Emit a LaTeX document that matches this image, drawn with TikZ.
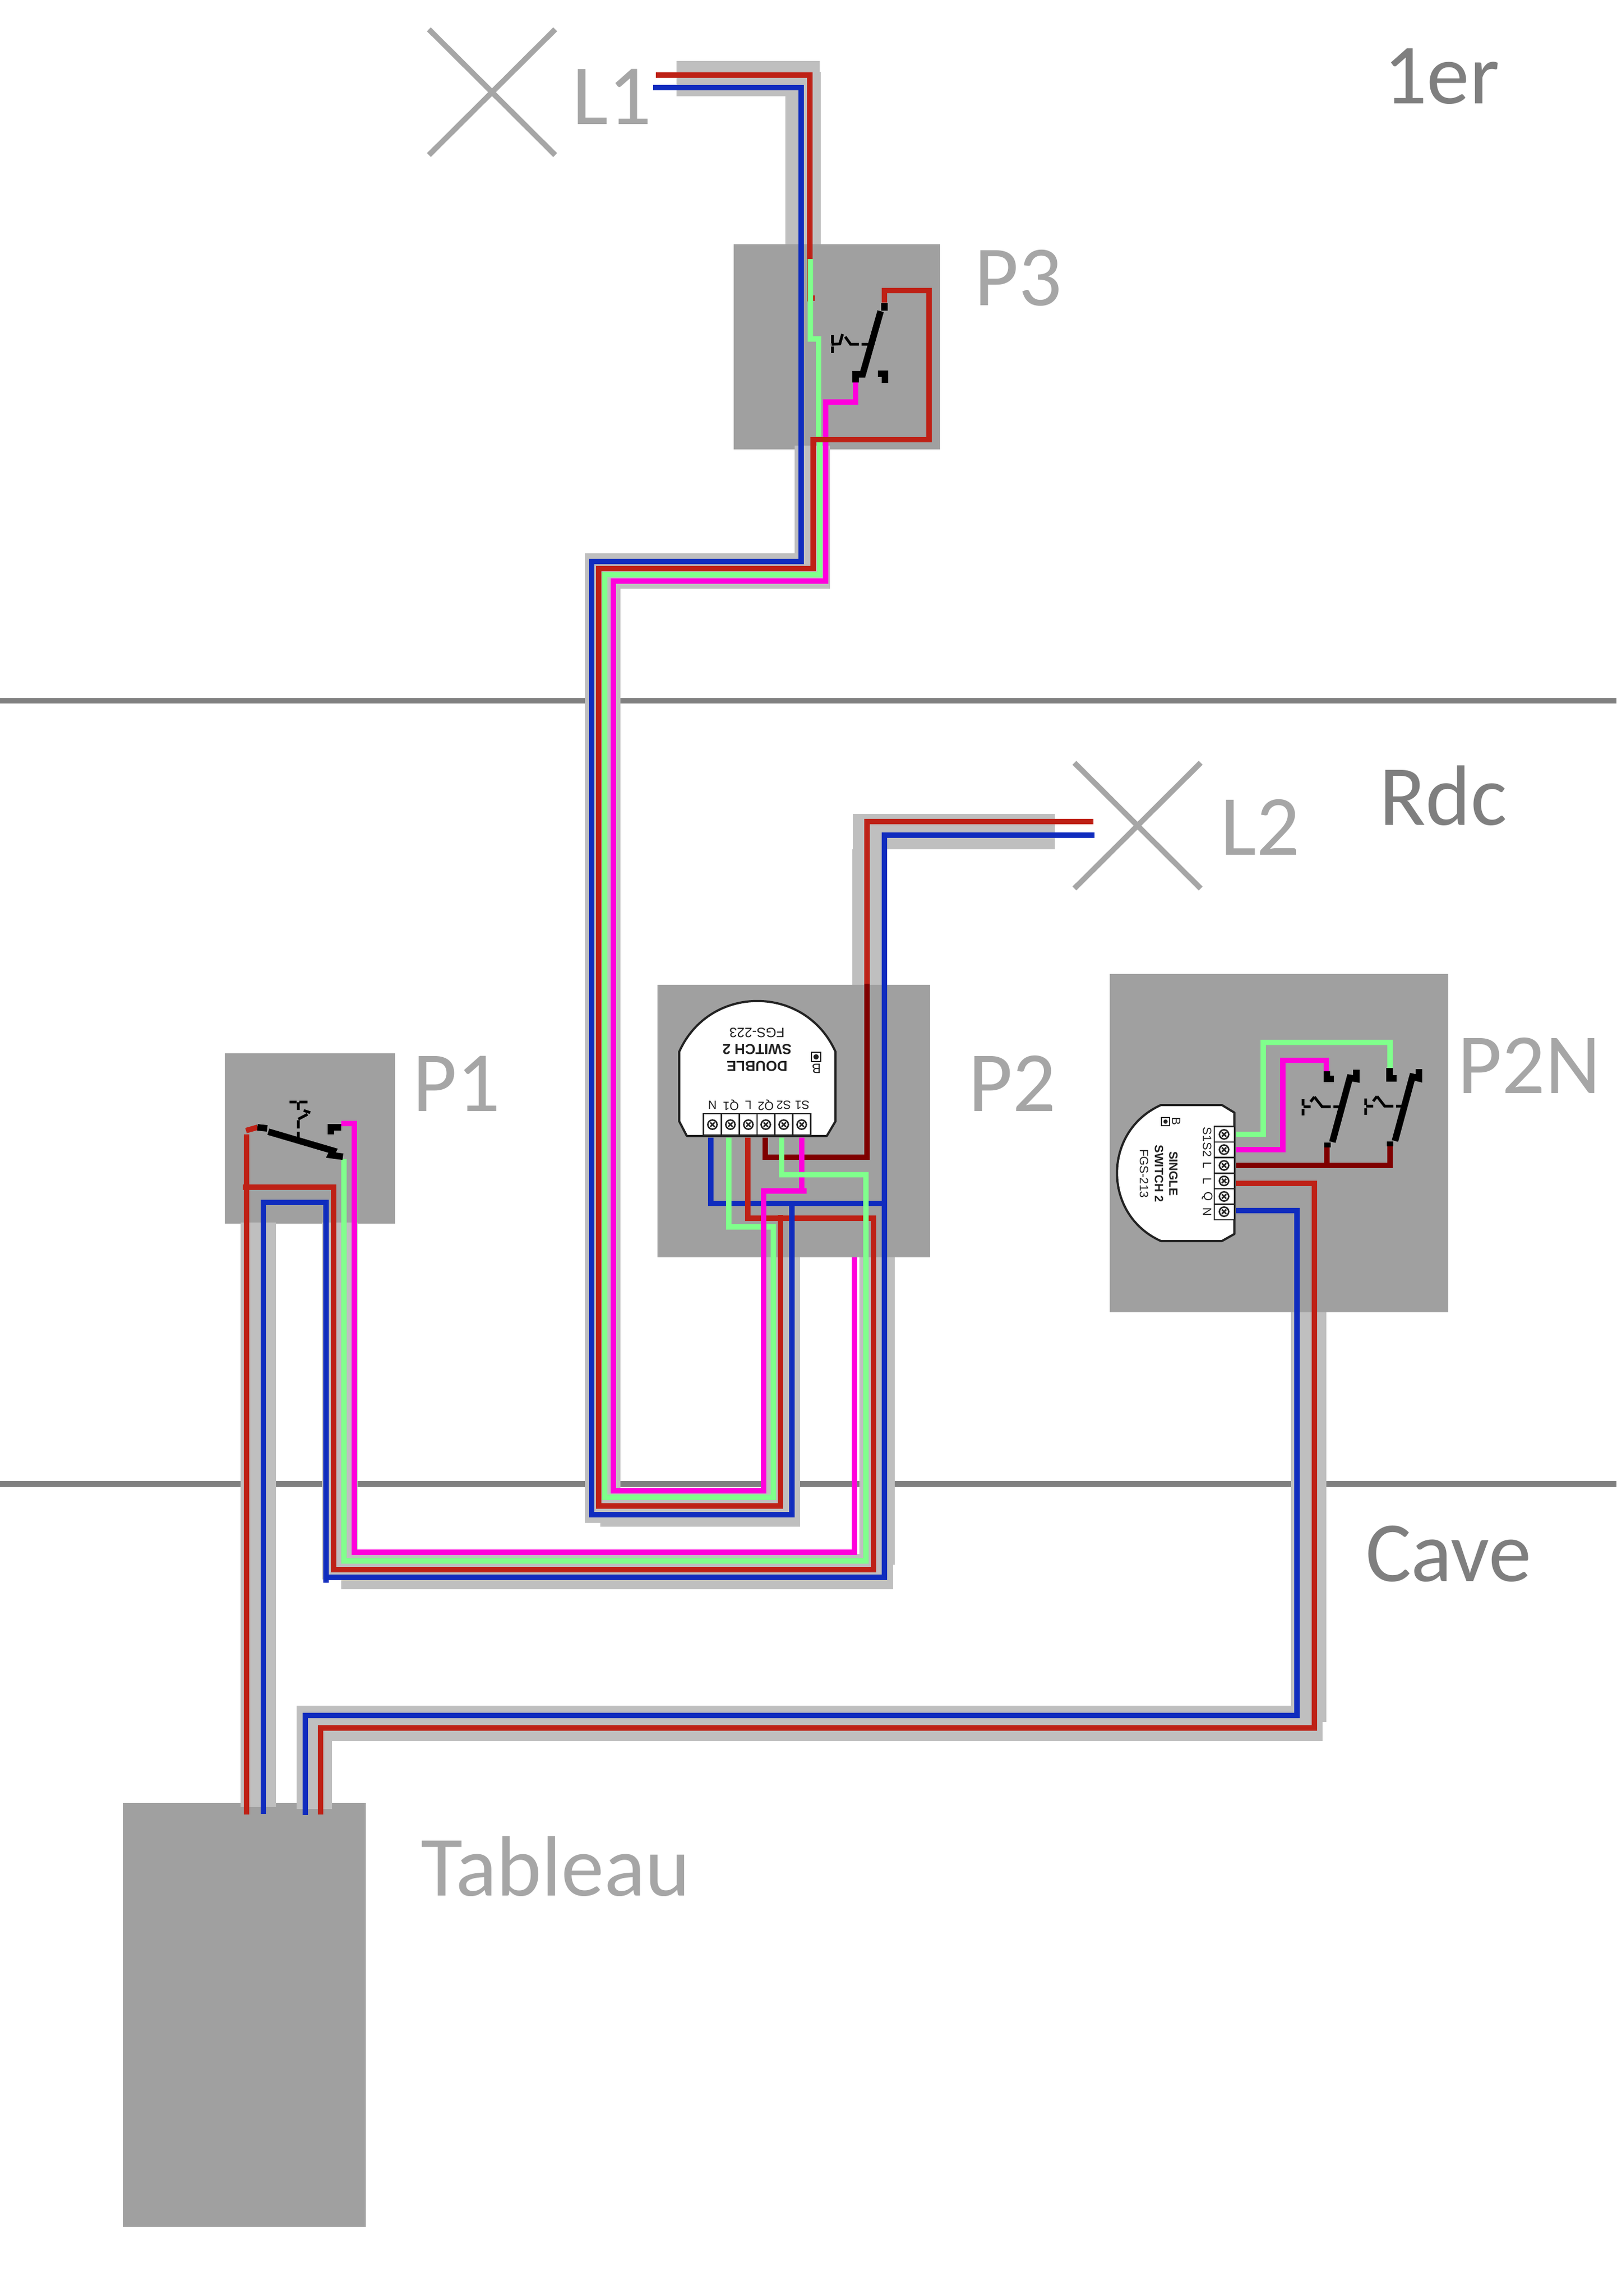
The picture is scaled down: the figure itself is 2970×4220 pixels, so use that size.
\documentclass[tikz,border=0pt]{standalone}
\usepackage{fontspec}
\setmainfont{Carlito}
\newfontfamily\arialf{Liberation Sans}
\definecolor{boxg}{HTML}{A0A0A0}
\definecolor{cable}{HTML}{BFBFBF}
\definecolor{floorg}{HTML}{808080}
\definecolor{lab}{HTML}{A6A6A6}
\definecolor{lev}{HTML}{7F7F7F}
\definecolor{wr}{HTML}{BE2116}
\definecolor{wb}{HTML}{102CBE}
\definecolor{wg}{HTML}{80FF8C}
\definecolor{wm}{HTML}{FF00DC}
\definecolor{wd}{HTML}{7F0000}
\definecolor{modk}{HTML}{222222}
\tikzset{
  wire/.style={line width=2pt,miter limit=10},
  wred/.style={wire,draw=wr},
  wblue/.style={wire,draw=wb},
  wgreen/.style={wire,draw=wg},
  wmag/.style={wire,draw=wm},
  wdark/.style={wire,draw=wd},
  floorline/.style={draw=floorg,line width=2.1pt},
  sw/.style={draw=black,line width=2.4pt,miter limit=10},
  swd/.style={draw=black,line width=1pt},
  lamp/.style={draw=lab,line width=2pt},
  biglab/.style={anchor=base west,inner sep=0pt,text=lab,font=\fontsize{31.5pt}{37pt}\selectfont},
  levlab/.style={anchor=base west,inner sep=0pt,text=lev,font=\fontsize{31.5pt}{37pt}\selectfont},
  modout/.style={draw=modk,fill=white,line width=0.8pt,line join=round},
  modtxt/.style={inner sep=0pt,text=modk,font=\arialf\fontsize{5pt}{6pt}\selectfont},
  modsmall/.style={inner sep=0pt,text=modk,font=\arialf\fontsize{4.4pt}{5pt}\selectfont},
  modbold/.style={inner sep=0pt,text=modk,font=\arialf\bfseries\fontsize{5.3pt}{6pt}\selectfont},
  cell/.style={draw=modk,fill=white,line width=0.5pt},
}
\newcommand{\screw}[2]{%
  \draw[draw=modk,line width=0.55pt] (#1,#2) circle[radius=8.5*0.2pt];
  \draw[draw=modk,line width=0.55pt] (#1-4,#2-4) -- (#1+4,#2+4) (#1-4,#2+4) -- (#1+4,#2-4);
}
\begin{document}
\begin{tikzpicture}[x=0.2pt,y=-0.2pt]
\useasboundingbox (0,0) rectangle (2970,4220);
\fill[white] (0,0) rectangle (2970,4220);
% floors
\draw[floorline] (0,1288) -- (2970,1288);
\draw[floorline] (0,2727.5) -- (2970,2727.5);
% boxes
\fill[boxg] (1348,449) rectangle (1727,826);
\fill[boxg] (1208,1810) rectangle (1709,2311);
\fill[boxg] (2039,1790) rectangle (2661,2412);
\fill[boxg] (413,1936) rectangle (726,2249);
\fill[boxg] (226,3314) rectangle (672,4093);
% cables
\fill[cable] (1243,112) rectangle (1506,177);
\fill[cable] (1443,132) rectangle (1508,449);
\fill[cable] (1460,819) rectangle (1525,1082);
\fill[cable] (1075,1017) rectangle (1525,1082);
\fill[cable] (1075,1017) rectangle (1140,2799);
\fill[cable] (1103,2735) rectangle (1470,2806);
\fill[cable] (1405,2311) rectangle (1470,2806);
\fill[cable] (592,2247) rectangle (657,2903);
\fill[cable] (627,2856) rectangle (1641,2921);
\fill[cable] (1579,2311) rectangle (1644,2876);
\fill[cable] (442,2247) rectangle (507,3321);
\fill[cable] (2372,2412) rectangle (2437,3165);
\fill[cable] (545,3135) rectangle (2430,3200);
\fill[cable] (545,3136) rectangle (610,3325);
\fill[cable] (1567,1496) rectangle (1938,1561);
\fill[cable] (1566,1561) rectangle (1630,1810);
% lamps
\draw[lamp] (788,54) -- (1020,285) (1020,54) -- (788,285);
\draw[lamp] (1974,1402) -- (2206,1633) (2206,1402) -- (1974,1633);
% module P2
\draw[modout] (1262,2088) -- (1519,2088) -- (1535,2061) -- (1535,1933)
  .. controls (1479.5,1808.7) and (1303.5,1808.7) .. (1248,1933) -- (1248,2061) -- cycle;
\foreach \x in {1292.5,1325.5,1358.5,1391,1423.5,1456.5}
  \draw[cell] (\x,2047) rectangle (\x+33,2086);
\foreach \x in {1309,1342,1375,1407,1440,1473} {\screw{\x}{2067}}
\node[modsmall,rotate=180] (p2n) at (1309,2031) {N};
\node[modsmall,rotate=180] (p2q1) at (1343,2031) {Q1};
\node[modsmall,rotate=180] (p2l) at (1375,2031) {L};
\node[modsmall,rotate=180] (p2q2) at (1407,2031) {Q2};
\node[modsmall,rotate=180] (p2s2) at (1440,2031) {S2};
\node[modsmall,rotate=180] (p2s1) at (1474,2031) {S1};
\node[modbold,rotate=180] (p2a) at (1391,1960) {DOUBLE};
\node[modbold,rotate=180] (p2b) at (1391,1929) {SWITCH 2};
\node[modtxt,rotate=180] (p2c) at (1391,1898) {FGS-223};
\draw[draw=modk,line width=0.3pt] (1491,1934) rectangle (1508,1951);
\fill[modk] (1499.4,1942.5) circle[radius=5*0.2pt];
\node[modtxt,rotate=180] (p2bb) at (1500,1964) {B};
% module P2N
\draw[modout] (2268,2045) -- (2245,2031) -- (2133,2031)
  .. controls (2025.4,2079.3) and (2025.4,2232.7) .. (2133,2281) -- (2245,2281) -- (2268,2268) -- cycle;
\foreach \y in {2070.5,2099,2128,2156.5,2185,2213.5}
  \draw[cell] (2231,\y) rectangle (2268,\y+28.6);
\foreach \y in {2085,2113,2142,2170.5,2199,2227} {\screw{2249}{\y}}
\node[modsmall,rotate=-90] (nn1) at (2218,2085) {S1};
\node[modsmall,rotate=-90] (nn2) at (2218,2113) {S2};
\node[modsmall,rotate=-90] (nn3) at (2218,2142) {L};
\node[modsmall,rotate=-90] (nn4) at (2218,2170.5) {L};
\node[modsmall,rotate=-90] (nn5) at (2218,2199) {Q};
\node[modsmall,rotate=-90] (nn6) at (2218,2227) {N};
\node[modsmall,rotate=-90] (nnb) at (2161,2061) {B};
\node[modsmall,rotate=-90] (nnc) at (2102,2157) {FGS-213};
\node[modbold,rotate=-90,font=\arialf\bfseries\fontsize{4.4pt}{5pt}\selectfont] (nna) at (2156,2157) {SINGLE};
\node[modbold,rotate=-90,font=\arialf\bfseries\fontsize{4.4pt}{5pt}\selectfont] (nnw) at (2129.5,2157) {SWITCH 2};
\draw[draw=modk,line width=0.3pt] (2134,2054) rectangle (2149,2069);
\fill[modk] (2141.5,2061.5) circle[radius=4*0.2pt];
% wires
\draw[wred] (1205,138) -- (1488,138) -- (1488,554);
\draw[wred] (1488,548) -- (1497,548);
\draw[wdark] (1593,1808) -- (1593,2127) -- (1406,2127) -- (1406,2091);
\draw[wred] (2009,1510) -- (1593,1510) -- (1593,1808);
\draw[wblue] (1200,161) -- (1472,161) -- (1472,1032) -- (1087,1032) -- (1087,2784) -- (1455,2784) -- (1455,2212);
\draw[wblue] (1306,2091) -- (1306,2212) -- (1625,2212);
\draw[wblue] (484,3334) -- (484,2210) -- (599,2210) -- (599,2909);
\draw[wblue] (599,2899) -- (1625,2899) -- (1625,1535) -- (2011,1535);
\draw[wred] (453,2085) -- (453,3335);
\draw[wred] (446,2182) -- (613,2182) -- (613,2885) -- (1605,2885) -- (1605,2239) -- (1373.5,2239) -- (1373.5,2091);
\draw[wblue] (1455,2212) -- (1455,2784);
\draw[wgreen] (1489,476) -- (1489,623) -- (1504,623) -- (1504,808) -- (1506,808) -- (1506,1056) -- (1111,1056) -- (1111,2752) -- (1421,2752) -- (1421,2255) -- (1339,2255) -- (1339,2091);
\draw[wmag] (1572,703) -- (1572,739) -- (1517,739) -- (1517,1068) -- (1127,1068) -- (1127,2740) -- (1403,2740) -- (1403,2189) -- (1473,2189) -- (1473,2091);
\draw[wmag] (1473,2189) -- (1482,2189);
\draw[wmag] (627,2065) -- (651,2065) -- (651,2853) -- (1570,2853) -- (1570,2311);
\draw[wred] (1625,556) -- (1625,534) -- (1707,534) -- (1707,808) -- (1494,808) -- (1494,1045) -- (1100,1045) -- (1100,2768) -- (1434,2768) -- (1434,2233);
\draw[wgreen] (632,2130) -- (632,2869) -- (1591,2869) -- (1591,2159) -- (1436,2159) -- (1436,2091);
\draw[wblue] (561,3336) -- (561,3153) -- (2383,3153) -- (2383,2225) -- (2271,2225);
\draw[wred] (589,3335) -- (589,3176) -- (2415,3176) -- (2415,2175) -- (2271,2175);
\draw[wdark] (2271,2142) -- (2558,2142);
\draw[wdark] (2437.5,2142) -- (2437.5,2109);
\draw[wdark] (2553.5,2147) -- (2553.5,2107);
\draw[wmag] (2271,2113) -- (2357,2113) -- (2357,1949) -- (2437,1949) -- (2437,1969);
\draw[wgreen] (2271,2085) -- (2321,2085) -- (2321,1916) -- (2553.5,1916) -- (2553.5,1963);
% P3 switch
\draw[sw] (1618,572) -- (1585,688) -- (1572,688) -- (1572,703);
\draw[sw] (1625,557) -- (1625,571);
\draw[sw] (1613,687) -- (1626,687) -- (1626,704);
\draw[swd] (1595,633) -- (1583,633) (1578,633) -- (1563,633) -- (1553,619) (1548,614) -- (1543,632) -- (1528,633);
\draw[swd] (1529,616) -- (1529,631) (1529,637) -- (1529,649);
% P1 switch
\draw[wred] (452,2078) -- (473,2072);
\draw[sw] (473,2072) -- (491,2074);
\draw[sw] (493,2080) -- (612,2115) -- (608,2123) -- (630,2126);
\draw[sw] (608,2085) -- (608,2072) -- (627,2072);
\draw[swd] (548,2092) -- (548,2080) (548,2074) -- (548,2059) (548,2057) -- (565,2048) (570,2045) -- (558,2041) (548,2040) -- (548,2026);
\draw[swd] (532,2025) -- (545,2025) (550,2025) -- (565,2025);
% P2N switches
\draw[sw] (2448,2099) -- (2480,1981) -- (2492,1983) -- (2492,1966);
\draw[sw] (2437.5,1969) -- (2437.5,1983) -- (2451,1983);
\draw[sw] (2439,2100) -- (2439,2109);
\draw[swd] (2462,2034) -- (2450,2034) (2445,2034) -- (2429,2034) -- (2415,2016) (2415,2016) -- (2408,2025) (2408,2034) -- (2395,2034) (2394,2020) -- (2394,2032) (2394,2038) -- (2394,2050);
\draw[sw] (2563,2097) -- (2595,1979) -- (2607,1982) -- (2607,1965);
\draw[sw] (2552.5,1963) -- (2552.5,1982) -- (2566,1982);
\draw[sw] (2554,2098) -- (2554,2107);
\draw[swd] (2577,2033) -- (2565,2033) (2560,2033) -- (2544,2033) -- (2530,2015) (2530,2015) -- (2523,2024) (2523,2033) -- (2510,2033) (2509,2019) -- (2509,2031) (2509,2037) -- (2509,2049);
% labels
\node[biglab] (l1) at (1050,229) {L1};
\node[biglab] (p3) at (1789,562) {P3};
\node[biglab] (p1) at (757,2042) {P1};
\node[biglab] (p2) at (1778,2042) {P2};
\node[biglab] (p2nl) at (2677,2009) {P2N};
\node[biglab] (l2) at (2241,1571) {L2};
\node[levlab] (er) at (2541,191) {1er};
\node[levlab] (rdc) at (2533,1516) {Rdc};
\node[levlab] (cave) at (2508,2906) {Cave};
\node[biglab] (tab) at (772,3484) {Tableau};
\end{tikzpicture}
\end{document}
